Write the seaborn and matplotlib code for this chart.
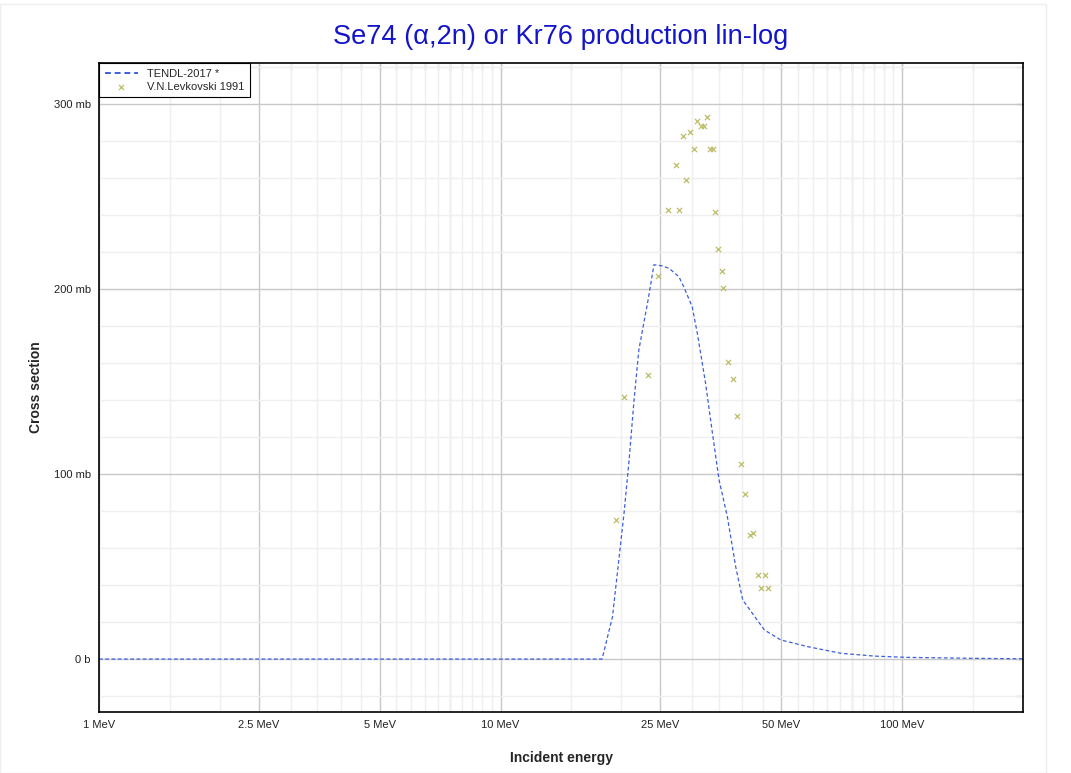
import matplotlib
matplotlib.use("Agg")
import matplotlib.pyplot as plt
import matplotlib.ticker as mticker
from matplotlib.patches import Rectangle
import pandas as pd
import seaborn as sns

# TENDL-2017 evaluated curve (MeV, mb)
tendl_energy = [1.0, 17.9, 19.0, 20.3, 20.9, 21.5, 22.1, 23.3, 24.1, 25.3, 26.3,
                27.8, 28.6, 30.0, 30.9, 32.4, 33.7, 35.0, 36.7, 38.5, 40.1, 45.4,
                49.9, 58.2, 70.5, 85.3, 103.0, 151.0, 200.0]
tendl_xs = [0, 0, 22.9, 78.8, 107.6, 140, 167, 194, 213, 212.4, 211,
            206.6, 201, 190.4, 176, 149, 122, 96.8, 77, 50, 31.9, 15.7,
            10.3, 6.7, 3.1, 1.6, 0.9, 0.4, 0.15]

# V.N.Levkovski 1991 measurements (MeV, mb)
exp_energy = [19.36, 20.3, 23.3, 24.7, 26.1, 27.4, 27.8, 28.4, 29.0, 29.7, 30.3,
              30.8, 31.5, 32.1, 32.7, 33.2, 33.8, 34.2, 34.8, 35.5, 35.8, 36.9,
              37.9, 38.8, 39.8, 40.7, 41.8, 42.6, 43.7, 44.6, 45.5, 46.3]
exp_xs = [75.1, 141.5, 153.3, 206.7, 242.7, 266.7, 242.7, 282.7, 258.8, 284.7, 275.7,
          290.8, 287.7, 287.7, 292.8, 275.7, 275.7, 241.6, 221.4, 209.6, 200.5, 160.4,
          151.4, 131.4, 105.2, 89.2, 67.2, 68.3, 45.2, 38.2, 45.2, 38.2]

major_e = [1, 2.5, 5, 10, 25, 50, 100]
minor_e = [1.5, 2, 3, 3.5, 4, 4.5, 5.5, 6, 6.5, 7, 7.5, 8, 8.5, 9, 9.5,
           15, 20, 30, 35, 40, 45, 55, 60, 65, 70, 75, 80, 85, 90, 95, 150]
mid_e = [7.5, 75]

tendl = pd.DataFrame({"energy": tendl_energy, "xs": tendl_xs})
exp = pd.DataFrame({"energy": exp_energy, "xs": exp_xs})

sns.set_theme(style="white")
plt.rcParams["font.family"] = ["Liberation Sans", "DejaVu Sans"]

fig = plt.figure(figsize=(10.71, 7.73), dpi=100)
ax = fig.add_axes([99 / 1071, 1 - 712 / 773, 924 / 1071, 649 / 773])

sns.lineplot(data=tendl, x="energy", y="xs", ax=ax, color="#3d5ee0",
             linewidth=0.9, linestyle=(0, (3, 2)), label="TENDL-2017 *")
sns.scatterplot(data=exp, x="energy", y="xs", ax=ax, color="#bdbd6a",
                marker="x", s=14, linewidth=0.9, label="V.N.Levkovski 1991", zorder=3)

ax.set_xscale("log")
ax.set_xlim(1, 200)
ax.set_ylim(-28.6, 322)

ax.xaxis.set_major_locator(mticker.FixedLocator(major_e))
ax.xaxis.set_minor_locator(mticker.FixedLocator(minor_e))
ax.xaxis.set_major_formatter(mticker.FuncFormatter(lambda v, p: f"{v:g} MeV"))
ax.xaxis.set_minor_formatter(mticker.NullFormatter())
ax.yaxis.set_major_locator(mticker.MultipleLocator(100))
ax.yaxis.set_minor_locator(mticker.MultipleLocator(20))
ax.yaxis.set_major_formatter(mticker.FuncFormatter(
    lambda v, p: "0 b" if v == 0 else f"{v:g} mb"))

ax.grid(which="major", color="#c8c8c8", linewidth=1)
ax.grid(which="minor", color="#efefef", linewidth=1)
for e in mid_e:
    ax.axvline(e, color="#dadada", linewidth=1, zorder=0.5)
ax.set_axisbelow(True)

for s in ax.spines.values():
    s.set_visible(True)
    s.set_color("black")
    s.set_linewidth(1.2)

ax.tick_params(which="major", direction="inout", length=8, width=1, labelsize=8,
               colors="black", pad=2)
ax.tick_params(which="minor", direction="in", length=5, width=0.8, colors="black")
for lab in ax.get_xticklabels() + ax.get_yticklabels():
    lab.set_color("#222222")

# inward ticks on the top and right edges
top = ax.secondary_xaxis("top")
top.xaxis.set_major_locator(mticker.FixedLocator(major_e))
top.xaxis.set_minor_locator(mticker.FixedLocator(minor_e))
top.tick_params(which="both", direction="in", length=5, width=0.8,
                labeltop=False, colors="black")
top.spines["top"].set_visible(False)
right = ax.secondary_yaxis("right")
right.yaxis.set_major_locator(mticker.MultipleLocator(100))
right.yaxis.set_minor_locator(mticker.MultipleLocator(20))
right.tick_params(which="both", direction="in", length=5, width=0.8,
                  labelright=False, colors="black")
right.spines["right"].set_visible(False)

ax.set_xlabel("Incident energy", fontsize=10, fontweight="bold")
ax.set_ylabel("Cross section", fontsize=10, fontweight="bold")
ax.xaxis.set_label_coords(0.5, -0.060)
ax.yaxis.set_label_coords(-0.0606, 0.5)

ax.set_title("Se74 (α,2n) or Kr76 production lin-log", color="#1414c8",
             fontsize=19.6, pad=14)

leg = ax.legend(loc="upper left", borderaxespad=0, fancybox=False,
                edgecolor="black", framealpha=1, fontsize=8,
                handlelength=3, borderpad=0.5, labelspacing=0.3)
leg.get_frame().set_linewidth(0.8)
leg.get_lines()[0].set_linewidth(1.4)

fig.patches.append(Rectangle((0, 0), 1046 / 1071, 1 - 4.3 / 773,
                             transform=fig.transFigure, fill=False,
                             edgecolor="#eeeeee", linewidth=1))

fig.savefig("out.png", dpi=100)
